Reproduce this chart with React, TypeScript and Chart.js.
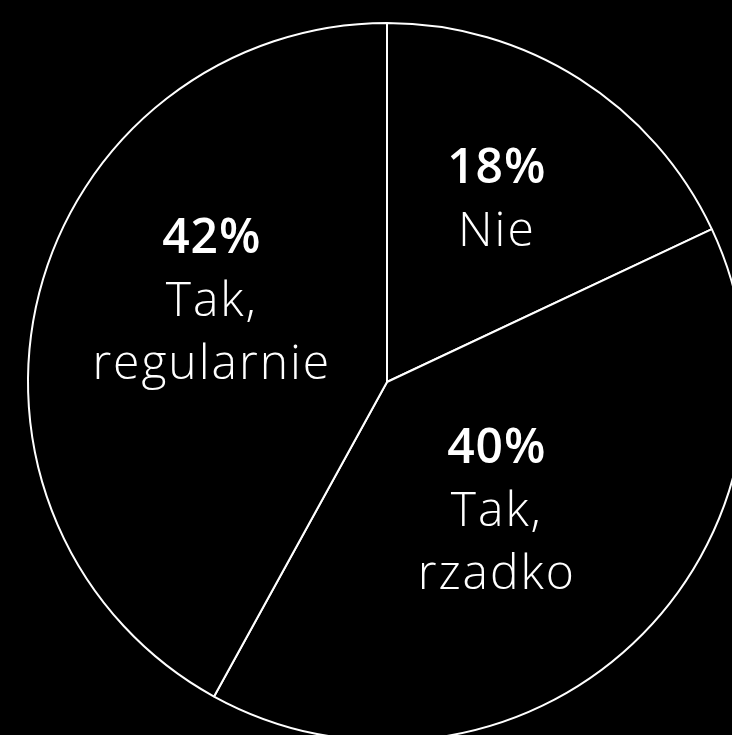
import React, { useEffect, useRef } from "react";
import { Chart, registerables } from "chart.js";

Chart.register(...registerables);

const categories = ["Nie", "Tak,\nrzadko", "Tak,\nregularnie"];
const values = [18, 40, 42];
const percentLabels = ["18%", "40%", "42%"];
// label block anchor (centre x, first baseline y), in units of radius, relative to pie centre
const labelOffsetX = [0.306, 0.306, -0.488];
const labelOffsetY = [-0.553, 0.225, -0.358];

const labelPlugin = {
  id: "sliceLabels",
  afterDatasetsDraw(chart: any) {
    const ctx = chart.ctx;
    const meta = chart.getDatasetMeta(0);
    ctx.save();
    ctx.fillStyle = "#ffffff";
    ctx.textAlign = "center";
    ctx.textBaseline = "alphabetic";
    const lineH = 63;
    meta.data.forEach((arc: any, i: number) => {
      const r = arc.outerRadius;
      const cx = arc.x + labelOffsetX[i] * r;
      const top = arc.y + labelOffsetY[i] * r;
      const lines = [percentLabels[i], ...categories[i].split("\n")];
      lines.forEach((t, j) => {
        ctx.font = (j === 0 ? "600 " : "300 ") + "48px 'Open Sans'";
        ctx.letterSpacing = j === 0 ? "1px" : "2px";
        ctx.fillText(t, cx, top + j * lineH);
      });
    });
    ctx.restore();
  },
};

export default function App() {
  const ref = useRef<HTMLCanvasElement>(null);
  useEffect(() => {
    document.body.style.margin = "0";
    document.body.style.background = "#000";
    const chart = new Chart(ref.current!, {
      type: "pie",
      data: {
        labels: categories,
        datasets: [
          {
            data: values,
            backgroundColor: "#000000",
            borderColor: "#ffffff",
            borderWidth: 2,
          },
        ],
      },
      options: {
        responsive: false,
        animation: false,
        layout: { padding: 22 },
        plugins: { legend: { display: false }, tooltip: { enabled: false } },
      },
      plugins: [labelPlugin],
    });
    return () => chart.destroy();
  }, []);
  return (
    <div style={{ width: 732, height: 735, overflow: "hidden", background: "#000" }}>
      <canvas ref={ref} width={774} height={764} style={{ display: "block" }} />
    </div>
  );
}
